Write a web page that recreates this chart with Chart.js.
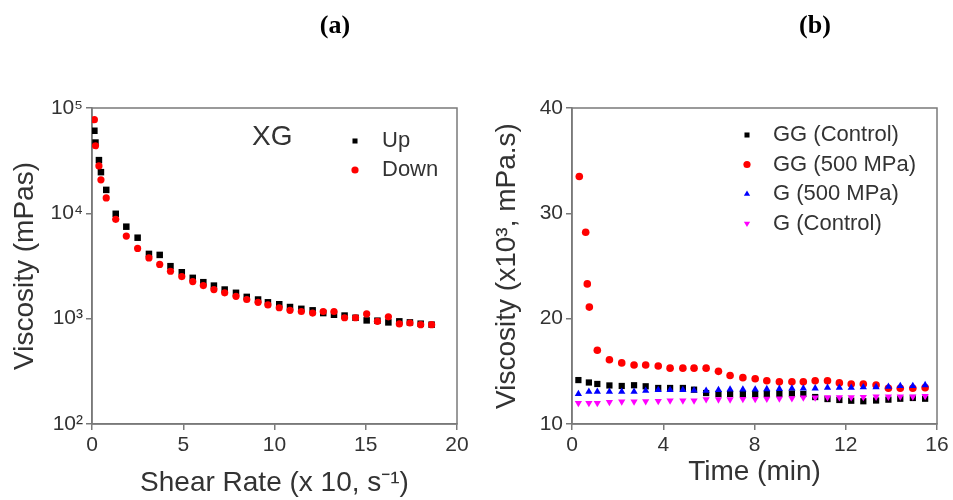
<!DOCTYPE html>
<html>
<head>
<meta charset="utf-8">
<script src="https://cdn.jsdelivr.net/npm/chart.js@4"></script>
<style>
  body { margin: 0; background: #fff; }
  #wrap { position: relative; width: 953px; height: 500px; }
  canvas { position: absolute; top: 0; }
</style>
</head>
<body>
<div id="wrap">
  <canvas id="chart_a" width="476" height="500" style="left:0"></canvas>
  <canvas id="chart_b" width="477" height="500" style="left:476px"></canvas>
</div>
<script>
// panel (a): XG viscosity vs shear rate
var shearRate = [0.13, 0.19, 0.38, 0.49, 0.78, 1.30, 1.88, 2.50, 3.12, 3.71, 4.30, 4.92, 5.52, 6.10, 6.68,
                 7.27, 7.89, 8.48, 9.10, 9.64, 10.26, 10.85, 11.47, 12.09, 12.67, 13.26, 13.84, 14.44,
                 15.05, 15.64, 16.24, 16.84, 17.42, 18.01, 18.61];
var upViscosity = [60800, 47000, 32000, 24600, 16700, 9900, 7470, 5870, 4120, 4030, 3150, 2760, 2440, 2220,
                   2060, 1890, 1760, 1610, 1520, 1430, 1370, 1290, 1240, 1200, 1130, 1090, 1070, 1020, 963,
                   957, 922, 943, 922, 896, 877];
var downViscosity = [77400, 43800, 28200, 20800, 14000, 8770, 6080, 4640, 3770, 3270, 2820, 2510, 2250, 2060,
                     1890, 1760, 1630, 1520, 1430, 1350, 1270, 1200, 1170, 1130, 1170, 1170, 1020, 1020, 1110,
                     943, 1040, 892, 910, 877, 877];
var shearTicks = [0, 5, 10, 15, 20];
var viscTicksA = [100, 1000, 10000, 100000];
var viscTickLabelsA = ['10\u00B2', '10\u00B3', '10\u2074', '10\u2075'];

// panel (b): viscosity vs time
var gTime = [0.28, 0.74, 1.11, 1.64, 2.18, 2.72, 3.23, 3.78, 4.30, 4.86, 5.35, 5.88, 6.42, 6.93, 7.49,
             8.03, 8.54, 9.09, 9.64, 10.14, 10.66, 11.20, 11.72, 12.24, 12.77, 13.33, 13.87, 14.39, 14.94, 15.48];
var gg500Time = [0.32, 0.60, 0.67, 0.76, 1.11, 1.64, 2.18, 2.72, 3.23, 3.78, 4.30, 4.86, 5.35, 5.88, 6.42,
                 6.93, 7.49, 8.03, 8.54, 9.09, 9.64, 10.14, 10.66, 11.20, 11.72, 12.24, 12.77, 13.33, 13.87,
                 14.39, 14.94, 15.48];
var ggControl = [14.17, 13.94, 13.80, 13.66, 13.61, 13.68, 13.58, 13.42, 13.42, 13.42, 13.26, 12.94, 12.85,
                 12.85, 12.85, 12.85, 12.85, 12.85, 12.90, 12.85, 12.56, 12.37, 12.28, 12.21, 12.16, 12.23,
                 12.31, 12.40, 12.47, 12.40];
var gg500 = [33.5, 28.2, 23.3, 21.1, 17.0, 16.1, 15.8, 15.6, 15.6, 15.5, 15.3, 15.3, 15.3, 15.3, 15.0, 14.6,
             14.4, 14.3, 14.1, 14.0, 14.0, 14.0, 14.1, 14.1, 13.9, 13.8, 13.8, 13.7, 13.4, 13.4, 13.4, 13.45];
var g500 = [12.85, 13.07, 13.07, 13.07, 13.07, 13.07, 13.16, 13.23, 13.23, 13.23, 13.18, 13.16, 13.23, 13.28,
            13.28, 13.28, 13.32, 13.34, 13.37, 13.37, 13.39, 13.45, 13.45, 13.45, 13.49, 13.51, 13.54, 13.61,
            13.61, 13.70];
var gControl = [11.99, 11.99, 11.99, 12.09, 12.12, 12.12, 12.16, 12.18, 12.23, 12.23, 12.23, 12.35, 12.33,
                12.33, 12.37, 12.37, 12.39, 12.42, 12.44, 12.50, 12.50, 12.54, 12.54, 12.54, 12.56, 12.59,
                12.59, 12.61, 12.61, 12.66];
var timeTicks = [0, 4, 8, 12, 16];
var viscTicksB = [10, 20, 30, 40];

var FONT = '"Liberation Sans", Arial, sans-serif';
var AXIS = '#7a7a7a';
var TEXT = '#333';

function toPoints(xs, ys) {
  var pts = [];
  for (var i = 0; i < xs.length; i++) pts.push({ x: xs[i], y: ys[i] });
  return pts;
}

function fixedTicks(values) {
  return function(scale) {
    scale.ticks = values.map(function(v) { return { value: v }; });
  };
}

function drawMarker(ctx, style, x, y, r, color) {
  ctx.fillStyle = color;
  ctx.beginPath();
  if (style === 'rect') {
    ctx.rect(x - r * 0.7, y - r * 0.7, r * 1.4, r * 1.4);
  } else if (style === 'circle') {
    ctx.arc(x, y, r, 0, Math.PI * 2);
  } else if (style === 'up') {
    ctx.moveTo(x, y - r); ctx.lineTo(x + r * 0.87, y + r * 0.5); ctx.lineTo(x - r * 0.87, y + r * 0.5);
  } else {
    ctx.moveTo(x, y + r); ctx.lineTo(x + r * 0.87, y - r * 0.5); ctx.lineTo(x - r * 0.87, y - r * 0.5);
  }
  ctx.closePath();
  ctx.fill();
}

var framePlugin = {
  id: 'framePlugin',
  beforeDatasetsDraw: function(chart) {
    var a = chart.chartArea, ctx = chart.ctx;
    ctx.save();
    ctx.strokeStyle = AXIS;
    ctx.lineWidth = 1.5;
    ctx.strokeRect(a.left, a.top, a.right - a.left, a.bottom - a.top);
    ctx.restore();
  },
  afterDraw: function(chart, args, opts) {
    var ctx = chart.ctx;
    ctx.save();
    ctx.textBaseline = 'middle';
    ctx.textAlign = 'center';
    ctx.fillStyle = '#000';
    ctx.font = 'bold 26px "Liberation Serif", "Times New Roman", serif';
    ctx.fillText(opts.panel, opts.panelX, 26);
    if (opts.note) {
      ctx.textAlign = 'left';
      ctx.fillStyle = TEXT;
      ctx.font = '28px ' + FONT;
      ctx.fillText(opts.note, opts.noteX, opts.noteY);
    }
    ctx.textAlign = 'left';
    ctx.font = '22px ' + FONT;
    opts.legend.forEach(function(item, i) {
      var y = opts.legendY + i * opts.legendGap;
      drawMarker(ctx, item.marker, opts.markerX, y, 3.6, item.color);
      ctx.fillStyle = TEXT;
      ctx.fillText(item.text, opts.textX, y);
    });
    ctx.restore();
  }
};

function axisBase(min, max, ticks, labelFn) {
  return {
    min: min,
    max: max,
    afterBuildTicks: fixedTicks(ticks),
    grid: { display: true, drawOnChartArea: false, drawTicks: true, tickLength: 6, color: AXIS, lineWidth: 1.5 },
    border: { display: true, color: AXIS, width: 1.5 },
    ticks: { color: TEXT, font: { family: FONT, size: 21 }, padding: 3, autoSkip: false, maxRotation: 0,
             callback: labelFn }
  };
}

// ---- panel (a)
var xA = axisBase(0, 20, shearTicks, function(v) { return String(v); });
xA.type = 'linear';
xA.afterFit = function(s) { s.height = 76; };
xA.title = { display: true, text: 'Shear Rate (x 10, s\u207B\u00B9)', color: TEXT,
             font: { family: FONT, size: 28 }, padding: { top: 0, bottom: 0 } };

var yA = axisBase(100, 100000, viscTicksA, function(v) {
  var i = viscTicksA.indexOf(v);
  return i >= 0 ? viscTickLabelsA[i] : '';
});
yA.type = 'logarithmic';
yA.afterFit = function(s) { s.width = 92; };
yA.title = { display: true, text: 'Viscosity (mPas)', color: TEXT,
             font: { family: FONT, size: 28 }, padding: { top: 8, bottom: 0 } };

new Chart(document.getElementById('chart_a'), {
  type: 'scatter',
  data: {
    datasets: [
      { label: 'Up', data: toPoints(shearRate, upViscosity), pointStyle: 'rect', pointRadius: 4.6,
        backgroundColor: '#000', borderWidth: 0, order: 1 },
      { label: 'Down', data: toPoints(shearRate, downViscosity), pointStyle: 'circle', pointRadius: 3.6,
        backgroundColor: '#ff0000', borderWidth: 0, order: 0 }
    ]
  },
  options: {
    responsive: false,
    devicePixelRatio: 1,
    animation: false,
    layout: { padding: { top: 108, right: 19, bottom: 0, left: 0 } },
    scales: { x: xA, y: yA },
    plugins: {
      legend: { display: false },
      tooltip: { enabled: false },
      framePlugin: {
        panel: '(a)', panelX: 335,
        note: 'XG', noteX: 252, noteY: 137,
        markerX: 355, textX: 382, legendY: 141, legendGap: 29,
        legend: [ { text: 'Up', marker: 'rect', color: '#000' },
                  { text: 'Down', marker: 'circle', color: '#ff0000' } ]
      }
    }
  },
  plugins: [framePlugin]
});

// ---- panel (b)
var xB = axisBase(0, 16, timeTicks, function(v) { return String(v); });
xB.type = 'linear';
xB.afterFit = function(s) { s.height = 76; };
xB.title = { display: true, text: 'Time (min)', color: TEXT,
             font: { family: FONT, size: 28 }, padding: { top: 0, bottom: 11 } };

var yB = axisBase(10, 40, viscTicksB, function(v) { return String(v); });
yB.type = 'linear';
yB.afterFit = function(s) { s.width = 96; };
yB.title = { display: true, text: 'Viscosity (x10\u00B3, mPa.s)', color: TEXT,
             font: { family: FONT, size: 28 }, padding: { top: 14, bottom: 0 } };

new Chart(document.getElementById('chart_b'), {
  type: 'scatter',
  data: {
    datasets: [
      { label: 'GG (Control)', data: toPoints(gTime, ggControl), pointStyle: 'rect', pointRadius: 4.4,
        backgroundColor: '#000', borderWidth: 0, order: 3 },
      { label: 'GG (500 MPa)', data: toPoints(gg500Time, gg500), pointStyle: 'circle', pointRadius: 3.8,
        backgroundColor: '#ff0000', borderWidth: 0, order: 2 },
      { label: 'G (500 MPa)', data: toPoints(gTime, g500), pointStyle: 'triangle', pointRadius: 4.2,
        backgroundColor: '#0000ff', borderWidth: 0, order: 1 },
      { label: 'G (Control)', data: toPoints(gTime, gControl), pointStyle: 'triangle', rotation: 180,
        pointRadius: 4.2, backgroundColor: '#ff00ff', borderWidth: 0, order: 0 }
    ]
  },
  options: {
    responsive: false,
    devicePixelRatio: 1,
    animation: false,
    layout: { padding: { top: 108, right: 16, bottom: 0, left: 0 } },
    scales: { x: xB, y: yB },
    plugins: {
      legend: { display: false },
      tooltip: { enabled: false },
      framePlugin: {
        panel: '(b)', panelX: 339,
        markerX: 271, textX: 297, legendY: 135, legendGap: 29.5,
        legend: [ { text: 'GG (Control)', marker: 'rect', color: '#000' },
                  { text: 'GG (500 MPa)', marker: 'circle', color: '#ff0000' },
                  { text: 'G (500 MPa)', marker: 'up', color: '#0000ff' },
                  { text: 'G (Control)', marker: 'down', color: '#ff00ff' } ]
      }
    }
  },
  plugins: [framePlugin]
});
</script>
</body>
</html>
